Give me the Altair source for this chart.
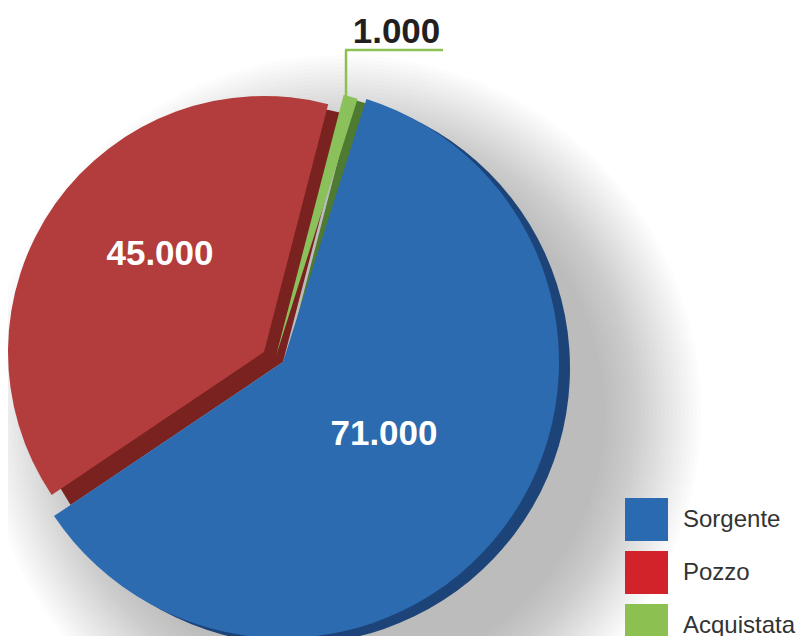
import math
import altair as alt
import pandas as pd

# ---- data ----
categories = ["Sorgente", "Pozzo", "Acquistata"]
values = [71000, 45000, 1000]
labels = ["71.000", "45.000", "1.000"]
order = [0, 1, 2]

front_colors = ["#2c6bb0", "#b23d3c", "#8bc15a"]
side_colors = ["#1c4479", "#7a2220", "#4e7a31"]
legend_colors = ["#2a6ab0", "#d2232a", "#8cc152"]

df = pd.DataFrame({"category": categories, "value": values, "label": labels, "order": order})

START = math.radians(17.6)
W, H = 790, 628

# per-slice geometry (center x, center y, radius, side dx, side dy)
geom = {
    "Sorgente": (275, 354, 276, 11, 6),
    "Pozzo": (256, 344, 256, 19, 10),
    "Acquistata": (268, 348, 270, 10, 5),
}

base = (
    alt.Chart(df)
    .transform_window(cum="sum(value)", sort=[alt.SortField("order")])
    .transform_joinaggregate(total="sum(value)")
    .transform_calculate(t0=f"{START} + 2*PI*(datum.cum - datum.value)/datum.total")
    .transform_calculate(t1=f"{START} + 2*PI*datum.cum/datum.total")
)

layers = []

# soft background shadow
shadow_src = alt.Chart(pd.DataFrame({"k": [0]}))
for i in range(25):
    r = 262 + i * 4
    layers.append(
        shadow_src.mark_arc(theta=0, theta2=2 * math.pi, radius=r, fill="#666666", opacity=0.02)
        .encode(x=alt.value(335), y=alt.value(405))
    )


def slice_layer(cat, color, side):
    cx, cy, r, dx, dy = geom[cat]
    if side:
        cx += dx
        cy += dy
    return (
        base.transform_filter(alt.datum.category == cat)
        .mark_arc(radius=r)
        .encode(
            theta=alt.Theta("t0:Q", scale=None, stack=None),
            theta2="t1:Q",
            x=alt.value(cx),
            y=alt.value(cy),
            color=alt.value(color),
        )
    )


for cat, c in zip(categories, side_colors):
    layers.append(slice_layer(cat, c, True))
for cat, c in zip(categories, front_colors):
    layers.append(slice_layer(cat, c, False))

FONT = "Liberation Sans, Arial, Helvetica, sans-serif"
label_pos = {"Sorgente": (376, 437, "white"), "Pozzo": (152, 257, "white"), "Acquistata": (388.5, 35, "#231f20")}
for cat in categories:
    x, y, col = label_pos[cat]
    layers.append(
        alt.Chart(df)
        .transform_filter(alt.datum.category == cat)
        .mark_text(font=FONT, fontSize=35, fontWeight="bold", align="center", baseline="alphabetic")
        .encode(text="label:N", x=alt.value(x), y=alt.value(y), color=alt.value(col))
    )

# leader line for the small slice
layers.append(
    alt.Chart(pd.DataFrame({"k": [0]}))
    .mark_rule(color="#8cc152", strokeWidth=2.5)
    .encode(x=alt.value(338), y=alt.value(42), y2=alt.value(90))
)
layers.append(
    alt.Chart(pd.DataFrame({"k": [0]}))
    .mark_rule(color="#8cc152", strokeWidth=2.5)
    .encode(x=alt.value(337), x2=alt.value(435), y=alt.value(42))
)

# legend carrier
layers.append(
    alt.Chart(df)
    .mark_square(size=0, filled=True)
    .encode(
        x=alt.value(0),
        y=alt.value(0),
        color=alt.Color(
            "category:N",
            scale=alt.Scale(domain=categories, range=legend_colors),
            sort=categories,
            legend=alt.Legend(
                title=None,
                orient="none",
                legendX=617,
                legendY=490,
                padding=0,
                symbolType="square",
                symbolSize=1849,
                symbolOpacity=1,
                symbolStrokeWidth=0,
                labelFontSize=24,
                labelFont=FONT,
                labelColor="#333333",
                labelOffset=15,
                rowPadding=10,
            ),
        ),
    )
)

chart = (
    alt.layer(*layers)
    .properties(width=W, height=H, padding=0, autosize=alt.AutoSizeParams(type="none"), background="white")
    .configure_view(stroke=None)
)

chart.save("out.html", embed_options={"renderer": "svg", "actions": False})
